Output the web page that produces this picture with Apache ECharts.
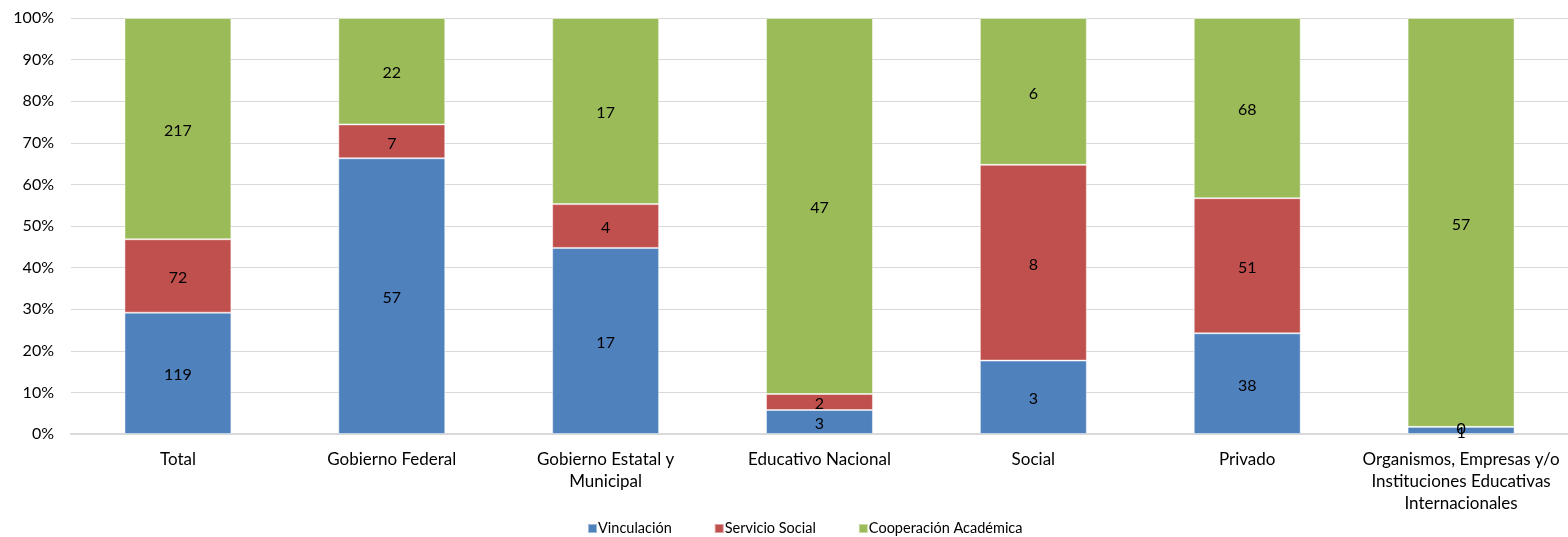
<!DOCTYPE html>
<html>
<head>
<meta charset="utf-8">
<script src="https://cdn.jsdelivr.net/npm/echarts@6/dist/echarts.min.js"></script>
<style>
  html, body { margin: 0; padding: 0; background: #fff; }
  #chart { width: 1568px; height: 537px; }
</style>
</head>
<body>
<div id="chart"></div>
<script>
// categorias (saltos de linea como en el original)
var categories = ['Total', 'Gobierno Federal', 'Gobierno Estatal y\nMunicipal', 'Educativo Nacional',
  'Social', 'Privado', 'Organismos, Empresas y/o\nInstituciones Educativas\nInternacionales'];

var vinculacion = [119, 57, 17, 3, 3, 38, 1];
var servicioSocial = [72, 7, 4, 2, 8, 51, 0];
var cooperacion = [217, 22, 17, 47, 6, 68, 57];

var seriesNames = ['Vinculación', 'Servicio Social', 'Cooperación Académica'];
var colors = ['#4f81bd', '#c0504d', '#9bbb59'];
var fontFam = 'Lato, "DejaVu Sans", sans-serif';

var raw = [vinculacion, servicioSocial, cooperacion];
var totals = categories.map(function (c, i) {
  return vinculacion[i] + servicioSocial[i] + cooperacion[i];
});

var myChart = echarts.init(document.getElementById('chart'));

var series = raw.map(function (arr, s) {
  return {
    name: seriesNames[s],
    type: 'bar',
    stack: 'total',
    barWidth: '50%',
    data: arr.map(function (v, i) {
      return { value: v / totals[i] * 100, raw: v };
    }),
    itemStyle: {
      color: colors[s],
      borderColor: 'rgba(255,255,255,0.45)',
      borderWidth: 1
    },
    label: {
      show: true,
      position: 'inside',
      color: '#000',
      fontSize: 16,
      fontFamily: fontFam,
      offset: [0, 2],
      formatter: function (p) { return p.data.raw; }
    }
  };
});

var option = {
  animation: false,
  grid: { left: 71, top: 18, width: 1502, bottom: 103 },
  legend: {
    top: 521,
    left: 587,
    padding: 0,
    itemWidth: 9,
    itemHeight: 9,
    itemGap: 42,
    icon: 'rect',
    textStyle: { fontSize: 14.5, fontFamily: fontFam, color: '#000', padding: [0, 0, 0, -4] },
    data: seriesNames
  },
  xAxis: {
    type: 'category',
    data: categories,
    axisLine: { lineStyle: { color: '#d9d9d9', width: 2 } },
    axisTick: { show: false },
    axisLabel: {
      interval: 0,
      color: '#000',
      fontSize: 17,
      fontFamily: fontFam,
      lineHeight: 22,
      margin: 15
    }
  },
  yAxis: {
    type: 'value',
    min: 0,
    max: 100,
    interval: 10,
    axisLine: { show: false },
    axisTick: { show: false },
    splitLine: { lineStyle: { color: '#d9d9d9', width: 1 } },
    axisLabel: {
      color: '#000',
      fontSize: 16,
      fontFamily: fontFam,
      margin: 17,
      formatter: '{value}%'
    }
  },
  series: series
};

myChart.setOption(option);
</script>
</body>
</html>
